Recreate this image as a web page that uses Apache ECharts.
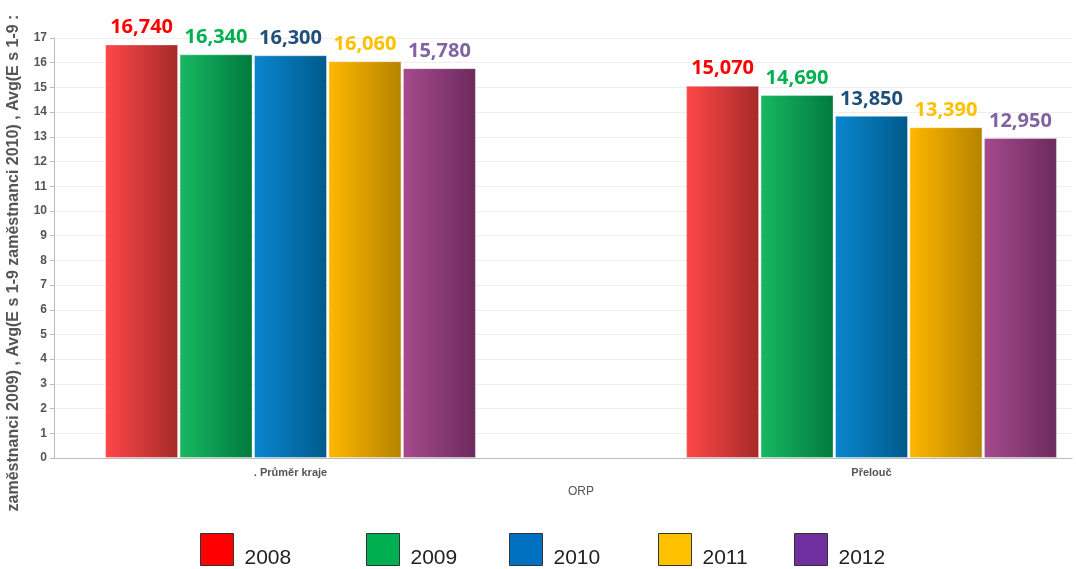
<!DOCTYPE html>
<html lang="cs">

<head>
    <meta charset="UTF-8">
    <script src="https://cdn.jsdelivr.net/npm/echarts@6/dist/echarts.min.js"></script>
    <title>ORP</title>
</head>

<body style="margin:0;">
    <div id="main" style="height: 569px;width: 1076px;"></div>

    <script>
        // data
        var categories = ['. Průměr kraje', 'Přelouč'];
        var years = ['2008', '2009', '2010', '2011', '2012'];
        var v2008 = [16.74, 15.07];
        var v2009 = [16.34, 14.69];
        var v2010 = [16.30, 13.85];
        var v2011 = [16.06, 13.39];
        var v2012 = [15.78, 12.95];
        var yTicks = [0, 17, 1]; // min, max, step

        var values = [v2008, v2009, v2010, v2011, v2012];
        // colours: legend swatch, bar gradient light/dark, label
        var swatch = ['#ff0000', '#00b050', '#0070c0', '#ffc000', '#7030a0'];
        var light = ['#ff4747', '#18b862', '#0a86d0', '#ffb700', '#a64a8e'];
        var dark = ['#a52a2a', '#007a3e', '#005a8a', '#b58300', '#6b2a5c'];
        var labelColor = ['#ff0000', '#00b050', '#1f4e79', '#ffc000', '#8064a2'];
        var legendLeft = [195, 361, 504, 653, 789];

        var chart = echarts.init(document.getElementById('main'));

        var series = years.map(function (y, i) {
            return {
                name: y,
                type: 'bar',
                xAxisIndex: 1,
                yAxisIndex: 1,
                data: values[i],
                barWidth: 73,
                barGap: '2%',
                itemStyle: {
                    color: new echarts.graphic.LinearGradient(0, 0, 1, 0, [
                        { offset: 0, color: light[i] },
                        { offset: 1, color: dark[i] }
                    ]),
                    borderColor: 'rgba(255,255,255,0.35)',
                    borderWidth: 1
                },
                label: {
                    show: true,
                    position: 'top',
                    distance: 7,
                    color: labelColor[i],
                    fontFamily: 'Open Sans',
                    fontWeight: 'bold',
                    fontSize: 20,
                    formatter: function (p) {
                        return p.value.toFixed(3).replace('.', ',');
                    }
                }
            };
        });

        var legends = years.map(function (y, i) {
            return {
                left: legendLeft[i],
                top: 528,
                icon: 'rect',
                itemWidth: 33,
                itemHeight: 32,
                itemGap: 0,
                selectedMode: false,
                data: [{
                    name: y,
                    itemStyle: { color: swatch[i], borderColor: '#333', borderWidth: 1 }
                }],
                formatter: '{t|{name}}',
                textStyle: {
                    rich: {
                        t: {
                            fontFamily: 'Liberation Sans',
                            fontSize: 21,
                            color: '#222',
                            padding: [17, 0, 0, 6]
                        }
                    }
                }
            };
        });

        var option = {
            backgroundColor: '#fff',
            animation: false,
            legend: legends,
            grid: [
                { left: 54, right: 4, top: 38, bottom: 111, outerBoundsMode: 'none' },
                // bars sit in a wider grid so the groups land where the original puts them
                { left: 0, width: 1162, top: 38, bottom: 111, outerBoundsMode: 'none' }
            ],
            xAxis: [
                {
                    type: 'category',
                    gridIndex: 0,
                    data: [''],
                    axisLine: { lineStyle: { color: '#bbb' } },
                    axisTick: { show: false },
                    axisLabel: { show: false }
                },
                {
                    type: 'category',
                    gridIndex: 1,
                    data: categories,
                    axisLine: { show: false },
                    axisTick: { show: false },
                    axisLabel: {
                        margin: 9,
                        color: '#555',
                        fontFamily: 'Liberation Sans',
                        fontWeight: 'bold',
                        fontSize: 11
                    },
                    name: 'ORP',
                    nameLocation: 'middle',
                    nameGap: 28,
                    nameTextStyle: {
                        color: '#555',
                        fontFamily: 'Liberation Sans',
                        fontSize: 12
                    }
                }
            ],
            yAxis: [
                {
                    type: 'value',
                    gridIndex: 0,
                    min: yTicks[0],
                    max: yTicks[1],
                    interval: yTicks[2],
                    axisLine: { show: true, lineStyle: { color: '#bbb' } },
                    axisTick: { show: true, length: 4, lineStyle: { color: '#bbb' } },
                    splitLine: { lineStyle: { color: '#eee' } },
                    axisLabel: {
                        margin: 7,
                        color: '#555',
                        fontFamily: 'Liberation Sans',
                        fontWeight: 'bold',
                        fontSize: 12
                    },
                    name: 'zaměstnanci 2009) , Avg(E s 1-9 zaměstnanci 2010) , Avg(E s 1-9 :',
                    nameLocation: 'middle',
                    nameRotate: 90,
                    nameGap: 32,
                    nameTextStyle: {
                        color: '#555',
                        fontFamily: 'Liberation Sans',
                        fontWeight: 'bold',
                        fontSize: 16,
                        padding: [0, 30, 0, 0]
                    }
                },
                {
                    type: 'value',
                    gridIndex: 1,
                    min: yTicks[0],
                    max: yTicks[1],
                    interval: yTicks[2],
                    show: false
                }
            ],
            series: series
        };

        chart.setOption(option);
    </script>
</body>

</html>
